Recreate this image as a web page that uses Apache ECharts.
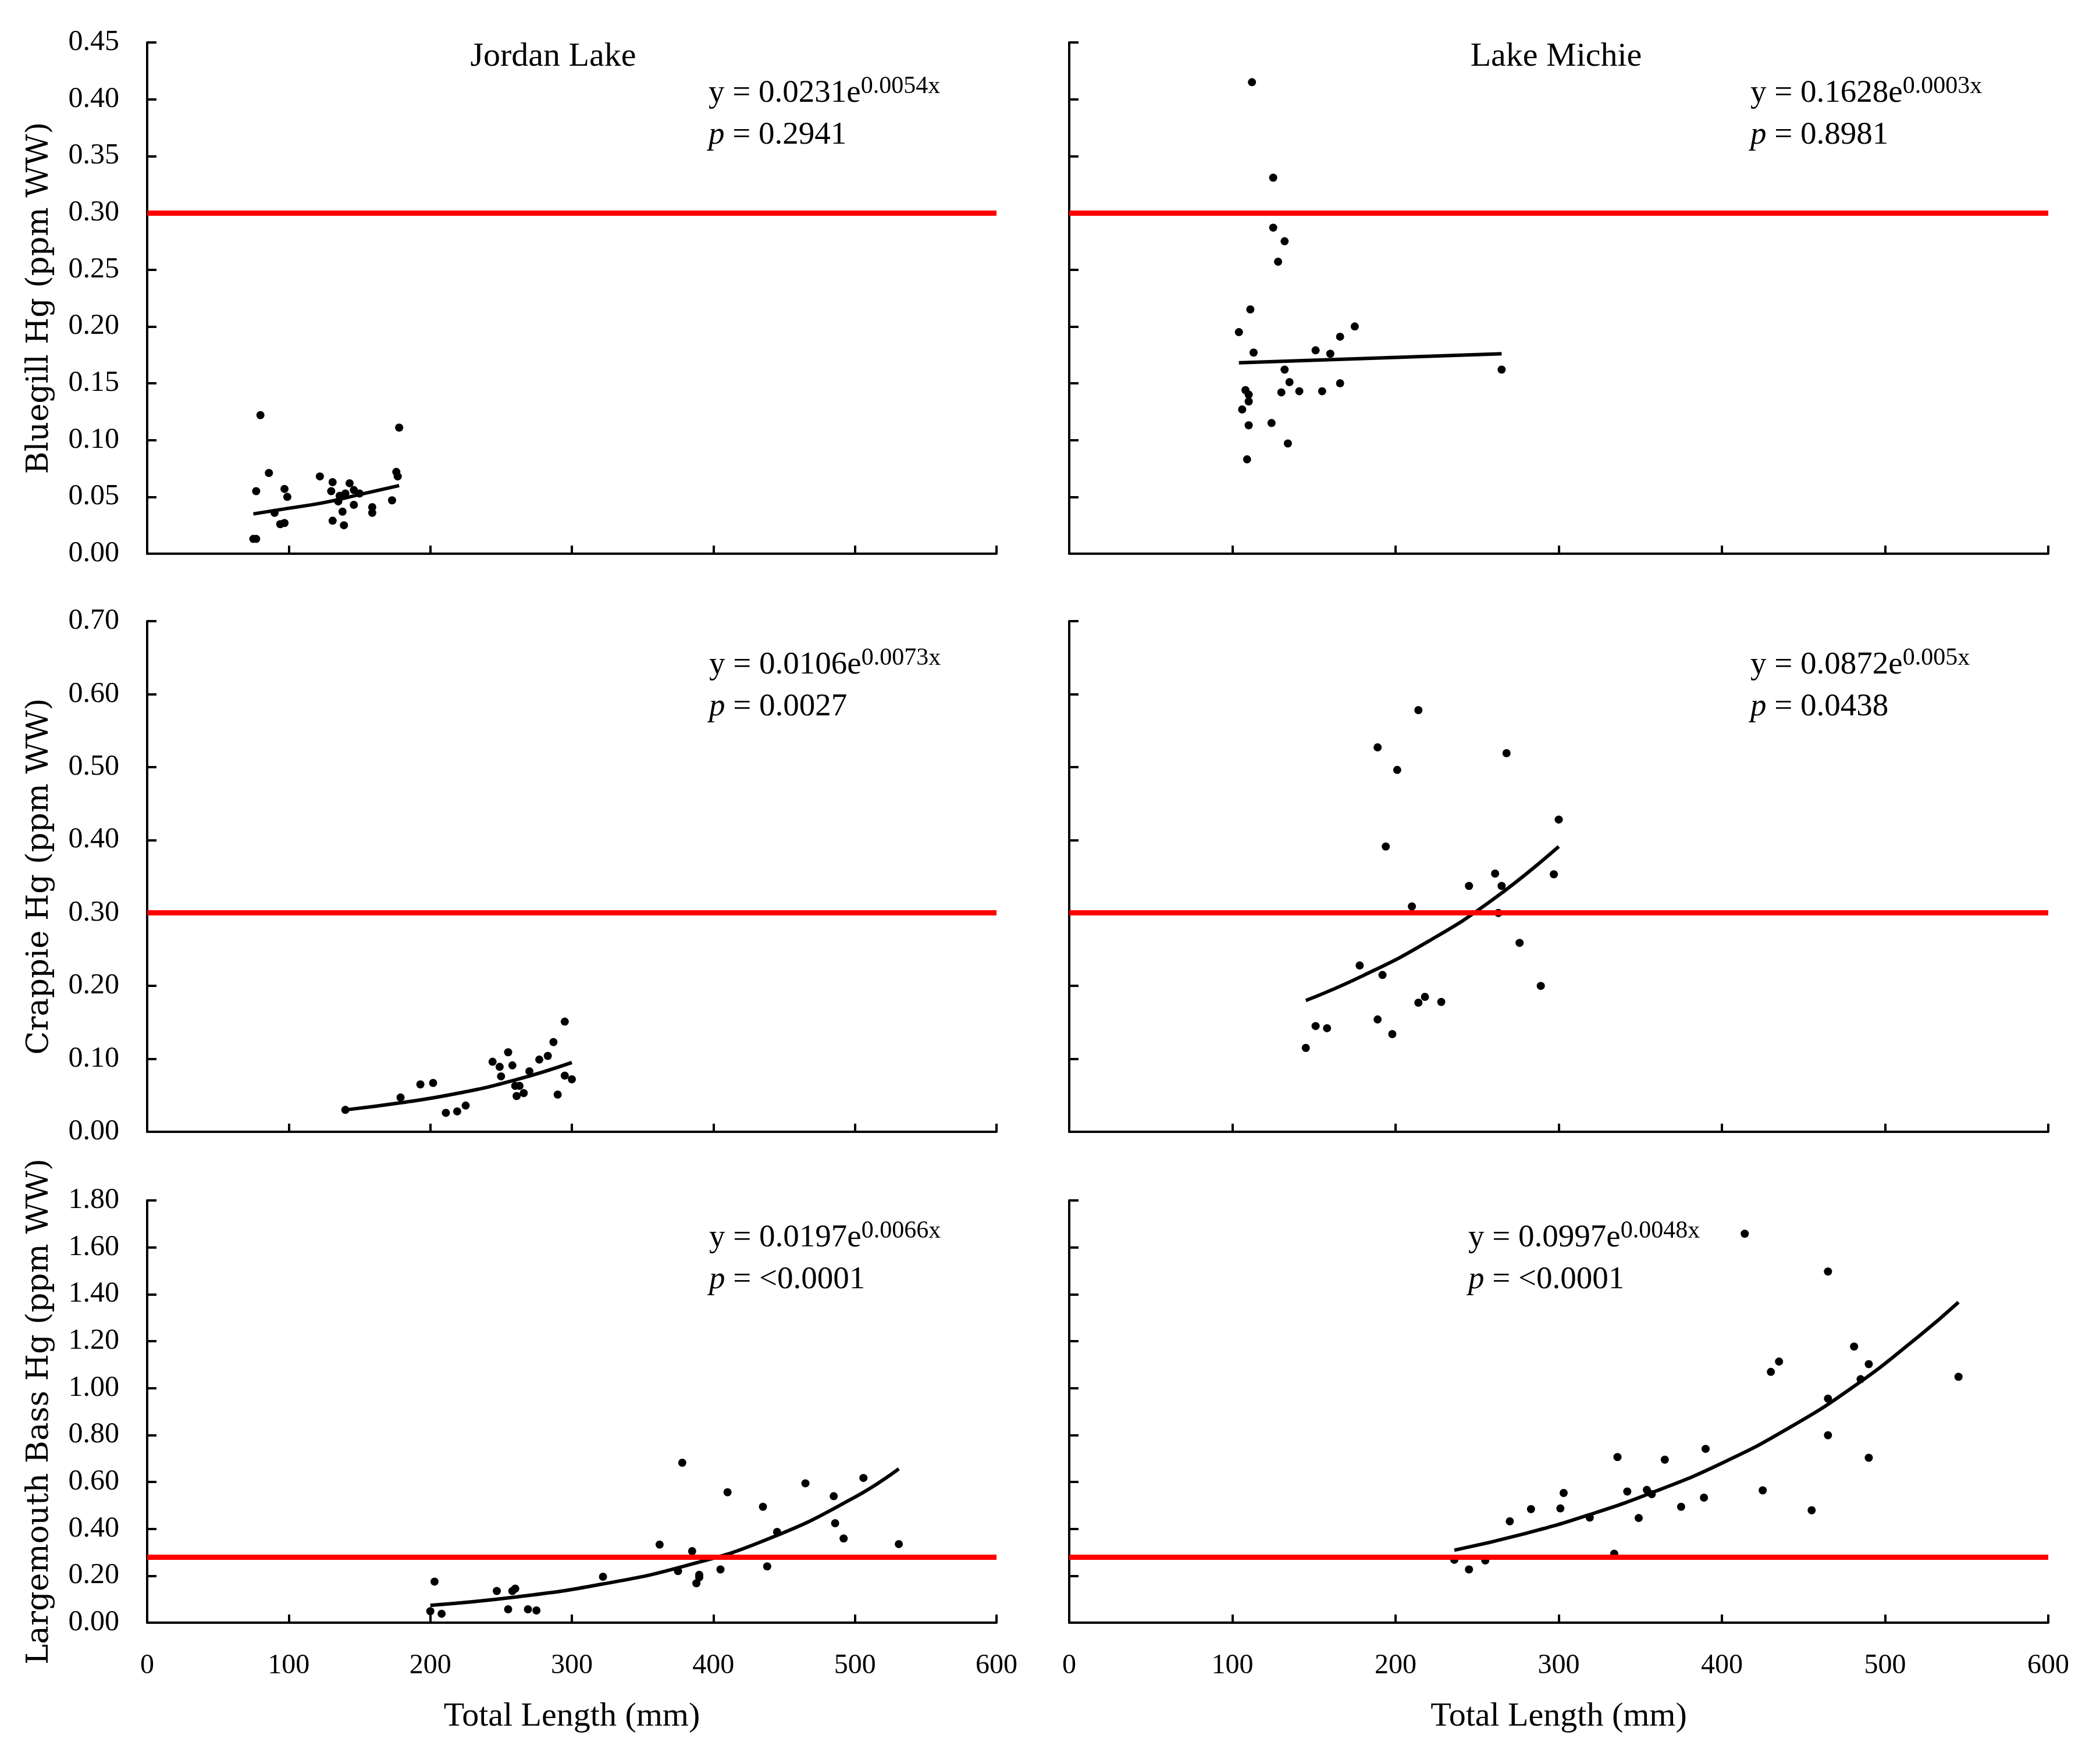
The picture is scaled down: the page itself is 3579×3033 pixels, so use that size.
<!DOCTYPE html>
<html>
<head>
<meta charset="utf-8">
<title>Hg vs Total Length</title>
<script src="https://cdn.jsdelivr.net/npm/echarts@6/dist/echarts.min.js"></script>
<style>
  html, body { margin: 0; padding: 0; background: #fff; }
  #chart { width: 3579px; height: 3033px; }
</style>
</head>
<body>
<div id="chart"></div>
<script>
// measured fish: [total length mm, Hg ppm WW]
var jordanBluegill = [
    [80,0.122],[178,0.111],[86,0.071],[122,0.068],[77,0.055],[97,0.057],[99,0.050],
    [90,0.036],[94,0.026],[97,0.027],[75,0.013],[77,0.013],[131,0.063],[130,0.055],
    [143,0.062],[140,0.053],[136,0.051],[135,0.046],[146,0.056],[150,0.053],[146,0.043],
    [138,0.037],[131,0.029],[139,0.025],[159,0.041],[159,0.036],[173,0.047],[176,0.072],[177,0.068]
];
var michieBluegill = [
    [112,0.415],[125,0.331],[125,0.287],[132,0.275],[128,0.257],[111,0.215],[104,0.195],
    [175,0.200],[166,0.191],[113,0.177],[151,0.179],[160,0.176],[132,0.162],[265,0.162],
    [135,0.151],[166,0.150],[108,0.144],[110,0.140],[130,0.142],[141,0.143],[155,0.143],
    [110,0.134],[106,0.127],[124,0.115],[110,0.113],[134,0.097],[109,0.083]
];
var jordanCrappie = [
    [140,0.030],[179,0.047],[193,0.065],[202,0.067],[211,0.026],[219,0.028],[225,0.036],
    [244,0.096],[249,0.089],[255,0.109],[258,0.091],[250,0.076],[260,0.063],[263,0.063],
    [261,0.049],[266,0.053],[270,0.083],[277,0.099],[283,0.104],[287,0.123],[295,0.151],
    [290,0.051],[295,0.077],[300,0.072]
];
var michieCrappie = [
    [214,0.578],[189,0.527],[268,0.519],[201,0.496],[300,0.428],[194,0.391],[261,0.354],
    [297,0.353],[245,0.337],[265,0.337],[210,0.309],[263,0.300],[276,0.259],[178,0.228],
    [192,0.215],[289,0.200],[218,0.185],[214,0.177],[228,0.178],[189,0.154],[151,0.145],
    [158,0.142],[198,0.134],[145,0.115]
];
var jordanBass = [
    [203,0.175],[200,0.049],[208,0.038],[247,0.135],[258,0.135],[260,0.145],[255,0.057],
    [269,0.057],[275,0.052],[322,0.196],[362,0.333],[378,0.682],[375,0.220],[385,0.305],
    [388,0.168],[390,0.204],[390,0.193],[405,0.227],[410,0.556],[435,0.494],[438,0.240],
    [445,0.387],[465,0.594],[485,0.539],[486,0.424],[492,0.359],[506,0.617],[531,0.335]
];
var michieBass = [
    [414,1.658],[465,1.497],[481,1.177],[490,1.102],[435,1.113],[430,1.069],[485,1.038],
    [545,1.048],[465,0.955],[465,0.799],[490,0.703],[390,0.741],[336,0.706],[365,0.695],
    [425,0.564],[303,0.553],[342,0.559],[354,0.566],[357,0.548],[389,0.533],[375,0.494],
    [455,0.479],[283,0.484],[301,0.487],[319,0.448],[349,0.446],[270,0.432],[334,0.294],
    [236,0.268],[245,0.227],[255,0.265]
];

// fitted curves
var jordanBluegillFit = [[75,0.035],[100,0.040],[125,0.045],[150,0.052],[178,0.060]];
var michieBluegillFit = [[104,0.168],[185,0.172],[265,0.176]];
var jordanCrappieFit  = [[140,0.030],[180,0.040],[220,0.053],[260,0.071],[300,0.095]];
var michieCrappieFit  = [[145,0.180],[180,0.214],[220,0.261],[260,0.319],[300,0.391]];
var jordanBassFit = [[200,0.074],[260,0.109],[320,0.163],[380,0.242],[440,0.360],[500,0.535],[531,0.656]];
var michieBassFit = [[236,0.309],[280,0.381],[320,0.463],[360,0.562],[400,0.680],[440,0.826],[480,1.003],[520,1.217],[545,1.366]];

// advisory levels (red lines), one per row
var advisory = [0.30, 0.30, 0.28];

// y axis per row
var yMax = [0.45, 0.70, 1.80];
var yStep = [0.05, 0.10, 0.20];
var yNames = ['Bluegill Hg (ppm WW)', 'Crappie Hg (ppm WW)', 'Largemouth Bass Hg (ppm WW)'];
var lakes = ['Jordan Lake', 'Lake Michie'];

// equation texts, panel order TL, TR, ML, MR, BL, BR
var eqCoef = ['0.0231', '0.1628', '0.0106', '0.0872', '0.0197', '0.0997'];
var eqExp  = ['0.0054x', '0.0003x', '0.0073x', '0.005x', '0.0066x', '0.0048x'];
var pVals  = ['0.2941', '0.8981', '0.0027', '0.0438', '<0.0001', '<0.0001'];

var panels = [
    { pts: jordanBluegill, fit: jordanBluegillFit },
    { pts: michieBluegill, fit: michieBluegillFit },
    { pts: jordanCrappie,  fit: jordanCrappieFit },
    { pts: michieCrappie,  fit: michieCrappieFit },
    { pts: jordanBass,     fit: jordanBassFit },
    { pts: michieBass,     fit: michieBassFit }
];

// layout (px)
var colLeft = [253, 1838], colWidth = [1460, 1683];
var rowTop = [73, 1068, 2064], rowHeight = [879, 878, 726];
var eqX = [1218, 3009, 1219, 3009, 1219, 2524];
var eqBase = [180, 180, 1163, 1163, 2148, 2148];

var SERIF = 'Liberation Serif';
var AXNAME = 'DejaVu Serif';

var grids = [], xAxes = [], yAxes = [], series = [], graphics = [];

for (var i = 0; i < 6; i++) {
    var row = Math.floor(i / 2), col = i % 2;
    grids.push({ left: colLeft[col], top: rowTop[row], width: colWidth[col], height: rowHeight[row] });

    var bottomRow = row === 2;
    xAxes.push({
        type: 'value', gridIndex: i, min: 0, max: 600, interval: 100,
        axisLine: { show: true, onZero: false, lineStyle: { color: '#000', width: 4 } },
        axisTick: { show: true, inside: true, length: 14, lineStyle: { color: '#000', width: 4 } },
        axisLabel: { show: bottomRow, color: '#000', fontFamily: SERIF, fontSize: 48, margin: 50 },
        splitLine: { show: false },
        name: bottomRow ? 'Total Length (mm)' : '',
        nameLocation: 'middle', nameGap: 133,
        nameTextStyle: { color: '#000', fontFamily: SERIF, fontSize: 58 }
    });

    yAxes.push({
        type: 'value', gridIndex: i, min: 0, max: yMax[row], interval: yStep[row],
        axisLine: { show: true, lineStyle: { color: '#000', width: 4 } },
        axisTick: { show: true, inside: true, length: 16, lineStyle: { color: '#000', width: 4 } },
        axisLabel: {
            show: col === 0, color: '#000', fontFamily: SERIF, fontSize: 50, margin: 48,
            formatter: function (v) { return v.toFixed(2); }
        },
        splitLine: { show: false },
        name: col === 0 ? yNames[row] : '',
        nameLocation: 'middle', nameGap: 158, nameRotate: 90,
        nameTextStyle: { color: '#000', fontFamily: AXNAME, fontSize: 53 }
    });

    series.push({
        type: 'scatter', xAxisIndex: i, yAxisIndex: i,
        data: panels[i].pts, symbolSize: 14,
        itemStyle: { color: '#000', opacity: 1 }, z: 2
    });
    series.push({
        type: 'line', xAxisIndex: i, yAxisIndex: i,
        data: panels[i].fit, smooth: true, showSymbol: false,
        lineStyle: { color: '#000', width: 6 }, z: 3,
        markLine: {
            silent: true, symbol: 'none', label: { show: false },
            lineStyle: { color: '#ff0000', width: 9, type: 'solid', opacity: 1 },
            data: [{ yAxis: advisory[row] }]
        }
    });

    // equation + p value
    graphics.push({
        type: 'text', x: eqX[i], y: eqBase[i] - 52,
        style: {
            text: '{m|y = ' + eqCoef[i] + 'e}{s|' + eqExp[i] + '}',
            verticalAlign: 'top',
            rich: {
                m: { fontFamily: SERIF, fontSize: 55, lineHeight: 66, fill: '#000' },
                s: { fontFamily: SERIF, fontSize: 42, lineHeight: 34, verticalAlign: 'top', fill: '#000' }
            }
        }
    });
    graphics.push({
        type: 'text', x: eqX[i], y: eqBase[i] + 72 - 19,
        style: {
            text: '{i|p}{m| = ' + pVals[i] + '}',
            verticalAlign: 'middle',
            rich: {
                i: { fontFamily: SERIF, fontSize: 55, fontStyle: 'italic', fill: '#000' },
                m: { fontFamily: SERIF, fontSize: 55, fill: '#000' }
            }
        }
    });
}

// lake titles over the top row
var titleX = [951, 2675];
for (var c = 0; c < 2; c++) {
    graphics.push({
        type: 'text', x: titleX[c], y: 98,
        style: { text: lakes[c], fontFamily: SERIF, fontSize: 58, fill: '#000', align: 'center', verticalAlign: 'middle' }
    });
}

var chart = echarts.init(document.getElementById('chart'));
chart.setOption({
    backgroundColor: '#fff',
    animation: false,
    grid: grids,
    xAxis: xAxes,
    yAxis: yAxes,
    series: series,
    graphic: graphics
});
</script>
</body>
</html>
